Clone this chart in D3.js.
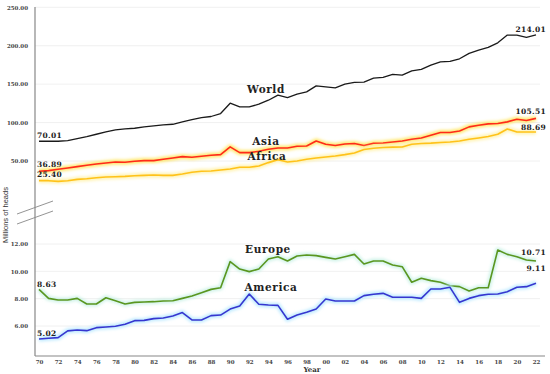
<!DOCTYPE html>
<html>
<head>
<meta charset="utf-8">
<script src="https://cdn.jsdelivr.net/npm/d3@7"></script>
<style>
  body { margin: 0; background: #fff; }
  svg text { font-family: "DejaVu Serif", serif; }
</style>
</head>
<body>
<div id="chart"></div>
<script>
// data
const years = d3.range(1970, 2023);

const world = [75.7,75.7,75.7,76.6,79.2,81.8,84.8,87.8,90.4,91.7,92.6,94.3,95.7,97.0,97.8,100.8,103.9,106.5,107.9,111.8,
  125.2,120.4,120.4,123.9,129.1,135.7,132.6,137.0,140.0,147.8,146.5,145.2,150.0,152.2,152.6,157.8,158.7,162.6,161.7,167.3,
  169.2,174.8,179.1,179.6,183.0,190.0,194.3,197.8,203.8,213.9,213.9,210.9,214.0];
const asia = [36.6,37.5,39.2,40.9,42.7,44.4,46.1,47.4,48.7,48.3,49.6,50.5,50.5,52.2,53.9,55.7,54.8,56.1,57.4,58.3,
  68.3,60.9,60.9,62.6,65.3,67.0,67.0,69.2,69.6,76.1,71.8,70.1,72.2,72.7,70.1,73.0,73.5,74.8,76.1,78.3,
  80.0,83.5,87.0,87.0,89.1,94.4,96.5,98.3,98.8,100.9,104.4,102.7,105.5];
const africa = [24.4,24.4,23.5,24.4,26.1,27.0,28.3,29.1,29.6,30.0,30.9,31.3,31.8,31.3,31.3,33.1,35.3,36.6,37.0,38.3,
  39.6,41.8,41.8,43.5,47.9,51.8,48.7,50.0,52.2,53.9,55.2,56.5,58.3,60.4,64.9,66.6,67.5,68.0,68.3,71.8,
  72.7,73.2,74.0,74.8,76.1,78.3,80.0,81.8,84.8,91.7,87.8,87.8,87.8];
const europe = [8.68,8.02,7.90,7.90,8.02,7.61,7.61,8.07,7.85,7.61,7.73,7.76,7.78,7.83,7.85,8.02,8.20,8.44,8.68,8.80,
  10.71,10.17,9.98,10.17,10.90,11.07,10.76,11.12,11.20,11.15,11.02,10.90,11.07,11.24,10.54,10.76,10.76,10.46,10.34,9.20,
  9.49,9.32,9.20,8.95,8.88,8.56,8.80,8.80,11.56,11.24,11.07,10.83,10.76];
const america = [5.05,5.10,5.15,5.64,5.71,5.66,5.88,5.93,5.98,6.13,6.39,6.41,6.54,6.59,6.73,6.98,6.44,6.44,6.76,6.80,
  7.24,7.46,8.34,7.59,7.54,7.51,6.49,6.80,7.00,7.24,7.98,7.83,7.83,7.83,8.22,8.32,8.39,8.10,8.10,8.10,
  8.02,8.71,8.71,8.83,7.73,8.02,8.22,8.32,8.34,8.51,8.83,8.88,9.12];

const topTicks = [50, 100, 150, 200, 250];
const bottomTicks = [6, 8, 10, 12];
const startLabels = ["70.01", "36.89", "25.40", "8.63", "5.02"];
const endLabels = ["214.01", "105.51", "88.69", "10.71", "9.11"];

// size
const width = 550, height = 374;
const axisX = 35, axisBottom = 356, gridRight = 540;

const svg = d3.select("#chart").append("svg")
    .attr("width", width)
    .attr("height", height);

const defs = svg.append("defs");
defs.append("filter").attr("id", "glow")
    .attr("x", "-10%").attr("y", "-50%").attr("width", "120%").attr("height", "200%")
  .append("feGaussianBlur").attr("stdDeviation", 1.5);

// scales
const x = d3.scaleLinear().domain([1970, 2022]).range([39, 536]);
const yTop = d3.scaleLinear().domain([50, 250]).range([161, 7.3]);
const yBot = d3.scaleLinear().domain([6, 12]).range([326, 244]);

// grid
svg.append("g")
    .selectAll("line")
    .data(topTicks)
    .enter().append("line")
    .attr("x1", axisX).attr("x2", gridRight)
    .attr("y1", d => yTop(d)).attr("y2", d => yTop(d))
    .attr("stroke", "#ececec").attr("stroke-width", 0.8);
svg.append("g")
    .selectAll("line")
    .data(bottomTicks)
    .enter().append("line")
    .attr("x1", axisX).attr("x2", gridRight)
    .attr("y1", d => yBot(d)).attr("y2", d => yBot(d))
    .attr("stroke", "#ececec").attr("stroke-width", 0.8);

// y axes
const fmt = d3.format(".2f");
[[yTop, topTicks], [yBot, bottomTicks]].forEach(([s, t]) => {
    const g = svg.append("g")
        .attr("transform", `translate(${axisX},0)`)
        .call(d3.axisLeft(s).tickValues(t).tickSize(0).tickPadding(7).tickFormat(fmt));
    g.select(".domain").remove();
    g.selectAll("text")
        .style("font-family", "DejaVu Serif")
        .style("font-size", "5.5px")
        .style("font-weight", "bold")
        .attr("fill", "#444");
});

// x axis
const xAxis = svg.append("g")
    .attr("transform", `translate(0,${axisBottom})`)
    .call(d3.axisBottom(x)
        .tickValues(years.filter(y => y % 2 === 0))
        .tickSize(0).tickPadding(4)
        .tickFormat(y => String(y % 100).padStart(2, "0")));
xAxis.select(".domain").remove();
xAxis.selectAll("text")
    .style("font-family", "DejaVu Serif")
    .style("font-size", "5.5px")
    .style("font-weight", "bold")
    .attr("fill", "#444");

// axis lines
svg.append("line")
    .attr("x1", axisX).attr("x2", axisX).attr("y1", 7).attr("y2", axisBottom)
    .attr("stroke", "#888").attr("stroke-width", 1.2);
svg.append("line")
    .attr("x1", axisX).attr("x2", 545).attr("y1", axisBottom).attr("y2", axisBottom)
    .attr("stroke", "#888").attr("stroke-width", 1.2);

// break marks
[0, 10].forEach(off => {
    svg.append("line")
        .attr("x1", 17).attr("y1", 214 + off)
        .attr("x2", 53).attr("y2", 201 + off)
        .attr("stroke", "#888").attr("stroke-width", 0.9);
});

// titles
svg.append("text")
    .attr("transform", "translate(8,215) rotate(-90)")
    .attr("text-anchor", "middle")
    .style("font-family", "Liberation Sans Narrow, Liberation Sans, sans-serif")
    .style("font-size", "7.5px")
    .attr("fill", "#333")
    .text("Millions of heads");
svg.append("text")
    .attr("x", 312).attr("y", 372)
    .attr("text-anchor", "middle")
    .style("font-size", "7px")
    .style("font-weight", "bold")
    .attr("fill", "#333")
    .text("Year");

// series
const series = [
    { name: "World", values: world, scale: yTop, color: "#1a1a1a", glow: null, nx: 266, ny: 93 },
    { name: "Asia", values: asia, scale: yTop, color: "#ff2a1a", glow: "#ffe24a", nx: 266, ny: 145 },
    { name: "Africa", values: africa, scale: yTop, color: "#ffc21a", glow: "#fff0a0", nx: 267, ny: 160 },
    { name: "Europe", values: europe, scale: yBot, color: "#5a9620", glow: "#c4f0e4", nx: 268, ny: 253 },
    { name: "America", values: america, scale: yBot, color: "#3636d0", glow: "#b0e6ff", nx: 271, ny: 291 }
];

series.forEach(s => {
    const line = d3.line()
        .x((d, i) => x(years[i]))
        .y(d => s.scale(d));
    if (s.glow) {
        svg.append("path")
            .datum(s.values)
            .attr("d", line)
            .attr("fill", "none")
            .attr("stroke", s.glow)
            .attr("stroke-width", 5)
            .attr("stroke-opacity", 0.8)
            .attr("stroke-linejoin", "round")
            .attr("filter", "url(#glow)");
    }
    svg.append("path")
        .datum(s.values)
        .attr("d", line)
        .attr("fill", "none")
        .attr("stroke", s.color)
        .attr("stroke-width", s.glow ? 1.6 : 1.3)
        .attr("stroke-linejoin", "round");

    svg.append("text")
        .attr("x", s.nx).attr("y", s.ny)
        .attr("text-anchor", "middle")
        .style("font-size", "10.5px")
        .style("font-weight", "bold")
        .style("letter-spacing", "0.6px")
        .attr("fill", "#222")
        .text(s.name);
});

// value labels
const startY = [138, 167, 177, 287, 336];
const endY = [32, 114, 130, 255, 271];
startLabels.forEach((t, i) => {
    svg.append("text")
        .attr("x", 37).attr("y", startY[i])
        .style("font-size", "7.5px")
        .style("font-weight", "bold")
        .style("letter-spacing", "0.3px")
        .attr("fill", "#222")
        .text(t);
});
endLabels.forEach((t, i) => {
    svg.append("text")
        .attr("x", 546).attr("y", endY[i])
        .attr("text-anchor", "end")
        .style("font-size", "7.5px")
        .style("font-weight", "bold")
        .style("letter-spacing", "0.3px")
        .attr("fill", "#222")
        .text(t);
});
</script>
</body>
</html>
